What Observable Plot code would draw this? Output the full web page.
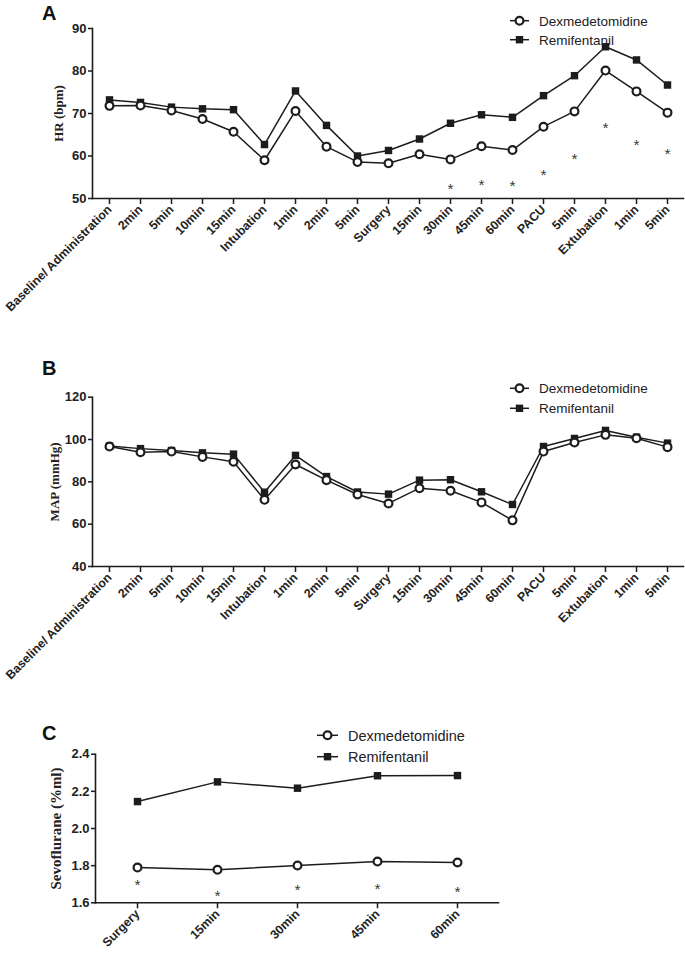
<!DOCTYPE html>
<html>
<head>
<meta charset="utf-8">
<script src="https://cdn.jsdelivr.net/npm/d3@7"></script>
<script src="https://cdn.jsdelivr.net/npm/@observablehq/plot@0.6"></script>
<style>
  html, body { margin: 0; padding: 0; background: #fff; }
  #wrap { position: relative; width: 685px; height: 958px; overflow: hidden; font-family: "Liberation Sans", Arial, sans-serif; }
  .panel { position: absolute; left: 0; }
  .letter { position: absolute; left: 42px; font-size: 20px; line-height: 20px; font-weight: bold; color: #111; }
  #overlay { position: absolute; left: 0; top: 0; pointer-events: none; }
</style>
</head>
<body>
<div id="wrap"></div>
<script>
// ---------- Data ----------
const timeLabels = ["Baseline/ Administration", "2min", "5min", "10min", "15min", "Intubation", "1min", "2min", "5min",
  "Surgery", "15min", "30min", "45min", "60min", "PACU", "5min", "Extubation", "1min", "5min"];
const seriesNames = ["Dexmedetomidine", "Remifentanil"];

// Panel A: HR (bpm)
const hrDex  = [71.8, 71.9, 70.7, 68.7, 65.7, 59.0, 70.6, 62.2, 58.6, 58.3, 60.4, 59.2, 62.3, 61.4, 66.9, 70.5, 80.1, 75.2, 70.2];
const hrRemi = [73.2, 72.6, 71.5, 71.1, 70.9, 62.7, 75.3, 67.2, 60.0, 61.3, 64.0, 67.7, 69.7, 69.1, 74.2, 78.9, 85.7, 82.6, 76.7];
const hrStarIdx = [11, 12, 13, 14, 15, 16, 17, 18];
const hrStarY   = [53.2, 54.2, 54.0, 56.6, 60.4, 67.6, 63.6, 61.5];
const hrTicks = [50, 60, 70, 80, 90];

// Panel B: MAP (mmHg)
const mapDex  = [96.7, 94.0, 94.3, 91.8, 89.5, 71.5, 88.2, 80.8, 74.0, 69.8, 77.0, 75.8, 70.3, 61.8, 94.3, 98.6, 102.2, 100.6, 96.4];
const mapRemi = [96.9, 95.7, 94.8, 93.7, 93.1, 75.1, 92.5, 82.5, 75.2, 74.2, 80.8, 81.0, 75.3, 69.3, 96.7, 100.5, 104.3, 101.1, 98.3];
const mapTicks = [40, 60, 80, 100, 120];

// Panel C: Sevoflurane (%ml)
const sevoLabels = ["Surgery", "15min", "30min", "45min", "60min"];
const sevoDex  = [1.790, 1.778, 1.801, 1.822, 1.817];
const sevoRemi = [2.145, 2.251, 2.217, 2.284, 2.285];
const sevoStarIdx = [0, 1, 2, 3, 4];
const sevoStarY   = [1.720, 1.663, 1.693, 1.700, 1.684];
const sevoTicks = [1.6, 1.8, 2.0, 2.2, 2.4];

// ---------- Drawing ----------
const INK = "#1c1c1c";
const wrap = document.getElementById("wrap");

function panel({labels, dex, remi, starIdx, starY, ticks, tickFmt, yLabel, yLabelSize, yLabelDx,
                top, height, marginTop, marginBottom, marginLeft, marginRight, tickFont}) {
  const n = labels.length;
  const idx = d3.range(n);
  const dexData = idx.map(i => ({i, v: dex[i]}));
  const remiData = idx.map(i => ({i, v: remi[i]}));
  const stars = starIdx.map((k, j) => ({i: k, v: starY[j]}));
  const chart = Plot.plot({
    width: 685,
    height,
    marginTop, marginBottom, marginLeft, marginRight,
    style: {fontFamily: '"Liberation Sans", Arial, sans-serif', color: INK, background: "transparent", overflow: "visible"},
    x: {type: "point", domain: idx, padding: 0.5},
    y: {domain: [ticks[0], ticks[ticks.length - 1]]},
    marks: [
      Plot.axisY({ticks, tickSize: 4, tickPadding: 2, tickFormat: tickFmt, fontSize: tickFont, fontWeight: "bold", label: null, strokeWidth: 1.5, fill: "#222"}),
      Plot.axisX({tickSize: 6, tickPadding: 3, tickRotate: -45, tickFormat: i => labels[i], fontSize: 12.3, fontWeight: "bold", label: null, strokeWidth: 1.5, fill: "#222"}),
      Plot.frame({anchor: "left", stroke: INK, strokeWidth: 1.6}),
      Plot.frame({anchor: "bottom", stroke: INK, strokeWidth: 1.6}),
      Plot.text([yLabel], {frameAnchor: "left", textAnchor: "middle", lineAnchor: "middle", rotate: -90, dx: yLabelDx,
        fontFamily: '"Liberation Serif", "Times New Roman", serif', fontWeight: "bold", fontSize: yLabelSize, fill: "#222"}),
      Plot.lineY(remiData, {x: "i", y: "v", stroke: INK, strokeWidth: 1.5}),
      Plot.lineY(dexData, {x: "i", y: "v", stroke: INK, strokeWidth: 1.5}),
      Plot.dot(remiData, {x: "i", y: "v", symbol: "square", r: 4.2, fill: INK, stroke: null}),
      Plot.dot(dexData, {x: "i", y: "v", symbol: "circle", r: 3.9, fill: "white", stroke: INK, strokeWidth: 2.2}),
      Plot.text(stars, {x: "i", y: "v", text: () => "*", fontSize: 15.5, fill: "#3a3a3a", dy: 4.5})
    ]
  });
  chart.classList.add("panel");
  chart.style.top = top + "px";
  wrap.appendChild(chart);
}

panel({labels: timeLabels, dex: hrDex, remi: hrRemi, starIdx: hrStarIdx, starY: hrStarY, ticks: hrTicks,
  tickFmt: d3.format("d"), yLabel: "HR (bpm)", yLabelSize: 13, yLabelDx: -34,
  top: 0, height: 320, marginTop: 28, marginBottom: 122, marginLeft: 92, marginRight: 2, tickFont: 13});

panel({labels: timeLabels, dex: mapDex, remi: mapRemi, starIdx: [], starY: [], ticks: mapTicks,
  tickFmt: d3.format("d"), yLabel: "MAP (mmHg)", yLabelSize: 13, yLabelDx: -38,
  top: 340, height: 348, marginTop: 56.7, marginBottom: 122, marginLeft: 92, marginRight: 2, tickFont: 13});

panel({labels: sevoLabels, dex: sevoDex, remi: sevoRemi, starIdx: sevoStarIdx, starY: sevoStarY, ticks: sevoTicks,
  tickFmt: d3.format(".1f"), yLabel: "Sevoflurane (%ml)", yLabelSize: 15, yLabelDx: -39,
  top: 700, height: 258, marginTop: 53.7, marginBottom: 55.7, marginLeft: 95, marginRight: 187, tickFont: 13});

// Panel letters
[["A", 2.7], ["B", 357.7], ["C", 722.7]].forEach(([t, y]) => {
  const d = document.createElement("div");
  d.className = "letter";
  d.textContent = t;
  d.style.top = y + "px";
  wrap.appendChild(d);
});

// Legends
const legends = [
  {x0: 510, x1: 529, tx: 539, ys: [20.7, 39.7], size: 13.5},
  {x0: 510, x1: 529, tx: 539, ys: [388.3, 408.3], size: 13.5},
  {x0: 317, x1: 338, tx: 348, ys: [735.3, 756.7], size: 14.5}
];
const ov = d3.select(wrap).append("svg").attr("id", "overlay").attr("width", 685).attr("height", 958);
legends.forEach(L => {
  seriesNames.forEach((name, k) => {
    const y = L.ys[k];
    const cx = (L.x0 + L.x1) / 2;
    ov.append("line").attr("x1", L.x0).attr("x2", L.x1).attr("y1", y).attr("y2", y)
      .attr("stroke", INK).attr("stroke-width", 1.5);
    if (k === 0) {
      ov.append("circle").attr("cx", cx).attr("cy", y).attr("r", 3.9)
        .attr("fill", "white").attr("stroke", INK).attr("stroke-width", 2.2);
    } else {
      ov.append("rect").attr("x", cx - 3.7).attr("y", y - 3.7).attr("width", 7.4).attr("height", 7.4).attr("fill", INK);
    }
    ov.append("text").attr("x", L.tx).attr("y", y + L.size * 0.36)
      .attr("font-family", '"Liberation Sans", Arial, sans-serif').attr("font-size", L.size)
      .attr("fill", "#222").text(name);
  });
});
</script>
</body>
</html>
